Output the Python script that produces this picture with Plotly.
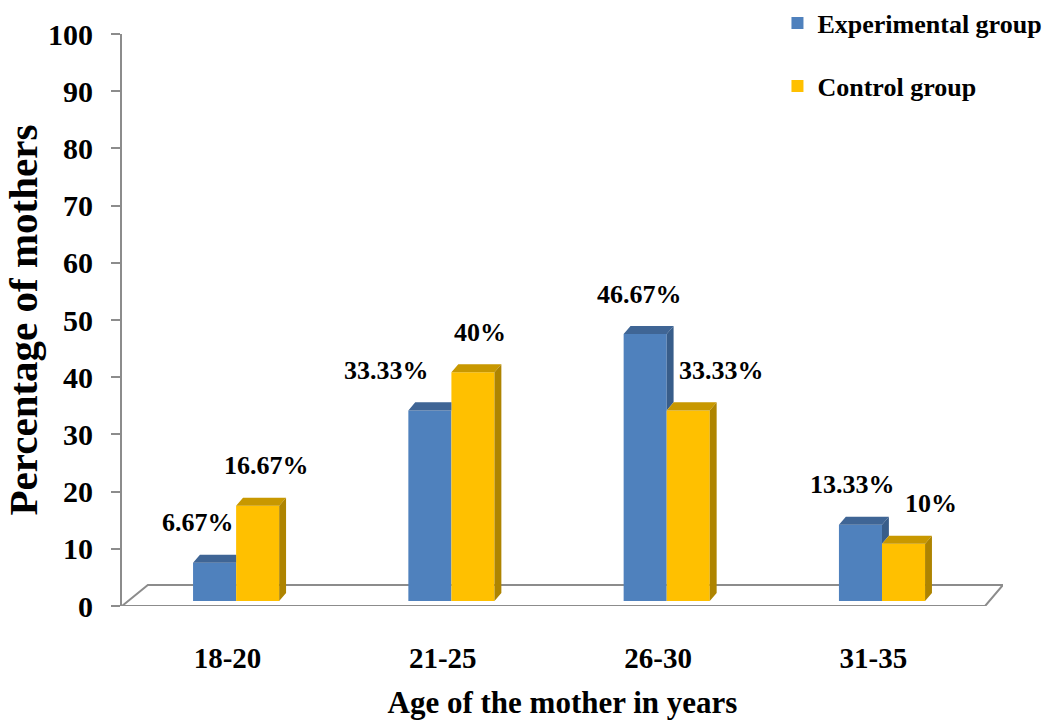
import plotly.graph_objects as go

# ---- data ----
categories = ["18-20", "21-25", "26-30", "31-35"]
experimental = [6.67, 33.33, 46.67, 13.33]
control = [16.67, 40, 33.33, 10]
series_names = ["Experimental group", "Control group"]

# ---- style / projection constants ----
FONT = "Liberation Serif, Times New Roman, serif"
BLUE, BLUE_TOP, BLUE_SIDE = "#4F81BD", "#3F6595", "#385D8A"
GOLD, GOLD_TOP, GOLD_SIDE = "#FFC000", "#C89800", "#AE8400"
BAR_W = 0.2          # width of each bar (category units)
DX, DY = 0.032, 1.4  # 3-D depth offset (x units, y units)
BASE = 0.87          # front-face base above the axis zero (floor depth)
X_RANGE = [-0.53, 3.562]
FLOOR_DX, FLOOR_DY = 0.12, 3.67

pos = list(range(len(categories)))
blue_x = [p - BAR_W / 2 for p in pos]
gold_x = [p + BAR_W / 2 for p in pos]

fig = go.Figure()

fig.add_trace(go.Bar(x=blue_x, y=experimental, base=BASE, width=BAR_W,
                     marker=dict(color=BLUE, line=dict(width=0)),
                     name=series_names[0], legendgroup="a"))
fig.add_trace(go.Bar(x=gold_x, y=control, base=BASE, width=BAR_W,
                     marker=dict(color=GOLD, line=dict(width=0)),
                     name=series_names[1], legendgroup="b"))


def poly_trace(xs, ys, color):
    return go.Scatter(x=xs, y=ys, mode="lines", fill="toself", fillcolor=color,
                      line=dict(width=0, color=color), hoverinfo="skip",
                      showlegend=False)


# top and side faces computed from the data
bt_x, bt_y, bs_x, bs_y = [], [], [], []
gt_x, gt_y, gs_x, gs_y = [], [], [], []
for cx_b, cx_g, vb, vg in zip(blue_x, gold_x, experimental, control):
    lb, rb = cx_b - BAR_W / 2, cx_b + BAR_W / 2
    lg, rg = cx_g - BAR_W / 2, cx_g + BAR_W / 2
    tb, tg = vb + BASE, vg + BASE
    # blue top (clipped by yellow front if yellow is taller)
    if tg >= tb + DY:
        bt_x += [lb, lb + DX, rb, rb, None]
        bt_y += [tb, tb + DY, tb + DY, tb, None]
    else:
        bt_x += [lb, lb + DX, rb + DX, rb, None]
        bt_y += [tb, tb + DY, tb + DY, tb, None]
    # blue side, visible only above yellow
    if tb > tg:
        bs_x += [rb, rb + DX, rb + DX, rb, None]
        bs_y += [tg, tg + DY, tb + DY, tb, None]
    # gold top and side
    gt_x += [lg, lg + DX, rg + DX, rg, None]
    gt_y += [tg, tg + DY, tg + DY, tg, None]
    gs_x += [rg, rg + DX, rg + DX, rg, None]
    gs_y += [BASE, BASE + DY, tg + DY, tg, None]

fig.add_trace(poly_trace(bt_x, bt_y, BLUE_TOP))
fig.add_trace(poly_trace(bs_x, bs_y, BLUE_SIDE))
fig.add_trace(poly_trace(gt_x, gt_y, GOLD_TOP))
fig.add_trace(poly_trace(gs_x, gs_y, GOLD_SIDE))

# floor (3-D base plane)
x0, x1 = X_RANGE
floor_path = (f"M {x0},0 L {x0 + FLOOR_DX},{FLOOR_DY} L {x1},{FLOOR_DY} "
              f"L {x1 - 0.083},0 Z")
fig.add_shape(type="path", path=floor_path, xref="x", yref="y",
              line=dict(color="#8C8C8C", width=2), fillcolor="white",
              layer="below")

# data labels
label_dx_blue = [-17, -43, -6, -8]
label_dx_gold = [9, 7, 33, 27]
for xs, vals, dxs in ((blue_x, experimental, label_dx_blue),
                      (gold_x, control, label_dx_gold)):
    for xx, v, d in zip(xs, vals, dxs):
        fig.add_annotation(x=xx, y=v + BASE, text=f"{v:g}%", showarrow=False,
                           xshift=d, yshift=40,
                           font=dict(family=FONT, size=26, color="black",
                                     weight="bold"))

fig.update_layout(
    width=1059, height=724,
    margin=dict(l=122, r=56, t=34, b=118, autoexpand=False),
    paper_bgcolor="white", plot_bgcolor="white",
    barmode="overlay",
    font=dict(family=FONT, color="black"),
    legend=dict(x=0.744, y=1.06, xanchor="left", yanchor="top",
                font=dict(family=FONT, size=26, color="black", weight="bold"),
                tracegroupgap=26, bgcolor="rgba(0,0,0,0)"),
    xaxis=dict(range=X_RANGE, tickvals=[p - 0.04 for p in pos],
               ticktext=categories, showgrid=False, zeroline=False,
               showline=False, ticks="", ticklabelstandoff=32,
               automargin=False,
               tickfont=dict(family=FONT, size=29, color="black", weight="bold"),
               title=dict(text="Age of the mother in years", standoff=18,
                          font=dict(family=FONT, size=31, color="black",
                                    weight="bold"))),
    yaxis=dict(range=[0, 100], tickvals=list(range(0, 101, 10)),
               showgrid=False, zeroline=False, showline=True,
               linecolor="#8C8C8C", linewidth=2, ticks="outside", ticklen=9,
               tickwidth=2, tickcolor="#8C8C8C", ticklabelstandoff=12,
               automargin=False,
               tickfont=dict(family=FONT, size=30, color="black", weight="bold"),
               title=dict(text="Percentage of mothers", standoff=14,
                          font=dict(family=FONT, size=41, color="black",
                                    weight="bold"))),
)

fig.write_html("out.html")
